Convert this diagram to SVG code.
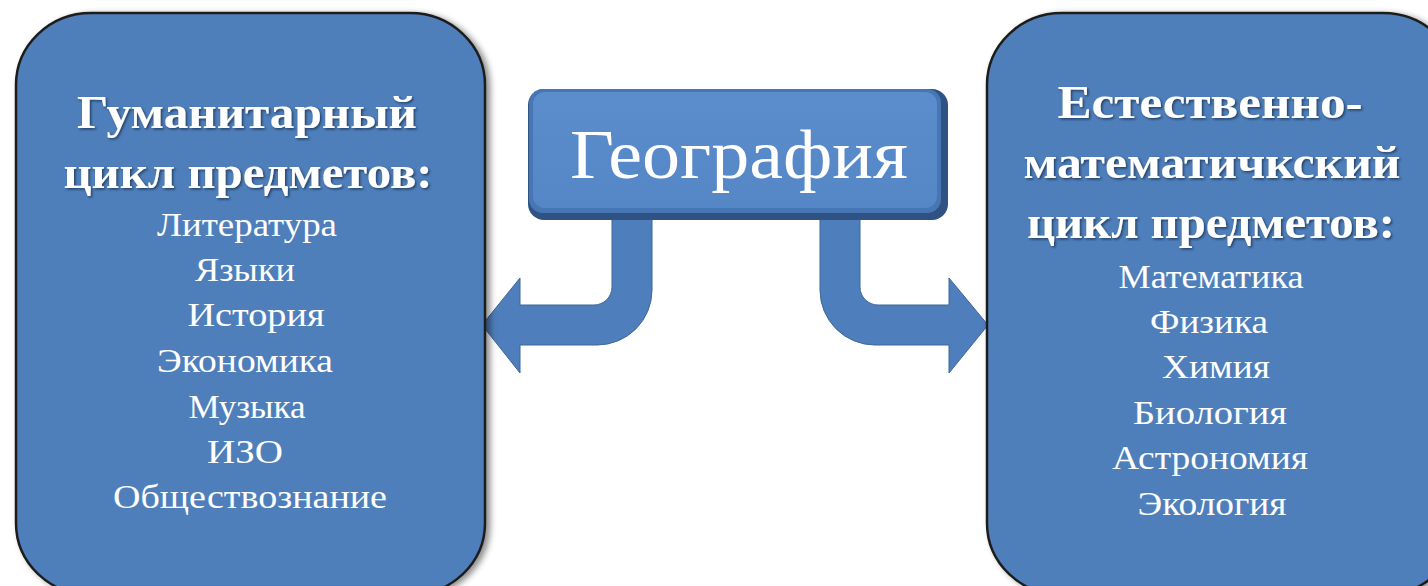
<svg xmlns="http://www.w3.org/2000/svg" width="1428" height="586" viewBox="0 0 1428 586">
  <defs>
    <filter id="sh" x="-10%" y="-10%" width="120%" height="120%">
      <feDropShadow dx="4" dy="2" stdDeviation="3" flood-color="#000" flood-opacity="0.45"/>
    </filter>
    <filter id="tsh" x="-5%" y="-20%" width="110%" height="140%">
      <feDropShadow dx="1.5" dy="1.5" stdDeviation="0.8" flood-color="#1f3350" flood-opacity="0.8"/>
    </filter>
    <linearGradient id="cg" x1="0" y1="0" x2="0" y2="1">
      <stop offset="0" stop-color="#5B8DCD"/>
      <stop offset="1" stop-color="#5586C6"/>
    </linearGradient>
    <linearGradient id="shaft" x1="0" y1="0" x2="1" y2="0">
      <stop offset="0" stop-color="#3F6CA6"/>
      <stop offset="0.15" stop-color="#4F80BD"/>
      <stop offset="0.85" stop-color="#4F80BD"/>
      <stop offset="1" stop-color="#3F6CA6"/>
    </linearGradient>
  </defs>
  <style>
    .box { fill: #4F7FBB; stroke: #1E1E1E; stroke-width: 2.5; }
    .arrow { fill: #4E7EBB; stroke: #3D6699; stroke-width: 1; }
    .title { font-family: "Liberation Serif", "DejaVu Serif", serif; font-weight: bold; font-size: 46px; fill: #ffffff; text-anchor: middle; }
    .item { font-family: "Liberation Serif", "DejaVu Serif", serif; font-size: 33px; fill: #ffffff; text-anchor: middle; }
    .geo { font-family: "Liberation Serif", "DejaVu Serif", serif; font-size: 70px; fill: #ffffff; text-anchor: middle; }
  </style>
  <rect width="1428" height="586" fill="#ffffff"/>

  <g id="connectors">
    <path class="arrow" d="M 612 216 L 652 216 L 652 290 A 55 55 0 0 1 597 345 L 520 345 L 520 373 L 482 325 L 520 278 L 520 305 L 594 305 A 18 18 0 0 0 612 287 Z"/>
    <path class="arrow" d="M 860 216 L 820 216 L 820 290 A 55 55 0 0 0 875 345 L 949 345 L 949 373 L 988 325 L 949 278 L 949 305 L 878 305 A 18 18 0 0 1 860 287 Z"/>
  </g>

  <g id="left-box">
    <rect class="box" x="16" y="13" width="469" height="582" rx="75" ry="72" filter="url(#sh)"/>
    <g filter="url(#tsh)">
      <text class="title" x="247" y="128" textLength="340" lengthAdjust="spacingAndGlyphs">Гуманитарный</text>
      <text class="title" x="248" y="188" textLength="369" lengthAdjust="spacingAndGlyphs">цикл предметов:</text>
    </g>
    <text class="item" x="247" y="236" textLength="180" lengthAdjust="spacingAndGlyphs">Литература</text>
    <text class="item" x="245" y="281" textLength="100" lengthAdjust="spacingAndGlyphs">Языки</text>
    <text class="item" x="256" y="326" textLength="137" lengthAdjust="spacingAndGlyphs">История</text>
    <text class="item" x="245" y="372" textLength="176" lengthAdjust="spacingAndGlyphs">Экономика</text>
    <text class="item" x="247" y="418" textLength="117" lengthAdjust="spacingAndGlyphs">Музыка</text>
    <text class="item" x="245" y="463" textLength="76" lengthAdjust="spacingAndGlyphs">ИЗО</text>
    <text class="item" x="250" y="508" textLength="274" lengthAdjust="spacingAndGlyphs">Обществознание</text>
  </g>

  <g id="right-box">
    <rect class="box" x="987" y="13" width="471" height="582" rx="75" ry="72" filter="url(#sh)"/>
    <g filter="url(#tsh)">
      <text class="title" x="1210" y="118" textLength="305" lengthAdjust="spacingAndGlyphs">Естественно-</text>
      <text class="title" x="1212" y="178" textLength="377" lengthAdjust="spacingAndGlyphs">математичкский</text>
      <text class="title" x="1211" y="238" textLength="368" lengthAdjust="spacingAndGlyphs">цикл предметов:</text>
    </g>
    <text class="item" x="1211" y="288" textLength="185" lengthAdjust="spacingAndGlyphs">Математика</text>
    <text class="item" x="1209" y="333" textLength="118" lengthAdjust="spacingAndGlyphs">Физика</text>
    <text class="item" x="1216" y="378" textLength="108" lengthAdjust="spacingAndGlyphs">Химия</text>
    <text class="item" x="1210" y="424" textLength="154" lengthAdjust="spacingAndGlyphs">Биология</text>
    <text class="item" x="1210" y="469" textLength="196" lengthAdjust="spacingAndGlyphs">Астрономия</text>
    <text class="item" x="1212" y="515" textLength="149" lengthAdjust="spacingAndGlyphs">Экология</text>
  </g>

  <g id="center-box">
    <rect x="528" y="89" width="420" height="131" rx="16" fill="#2F5283"/>
    <rect x="529" y="89" width="412" height="124" rx="14" fill="#4677B4"/>
    <rect x="533" y="92" width="404" height="116" rx="12" fill="url(#cg)"/>
    <text class="geo" x="739" y="178" textLength="338" lengthAdjust="spacingAndGlyphs">География</text>
  </g>
</svg>
